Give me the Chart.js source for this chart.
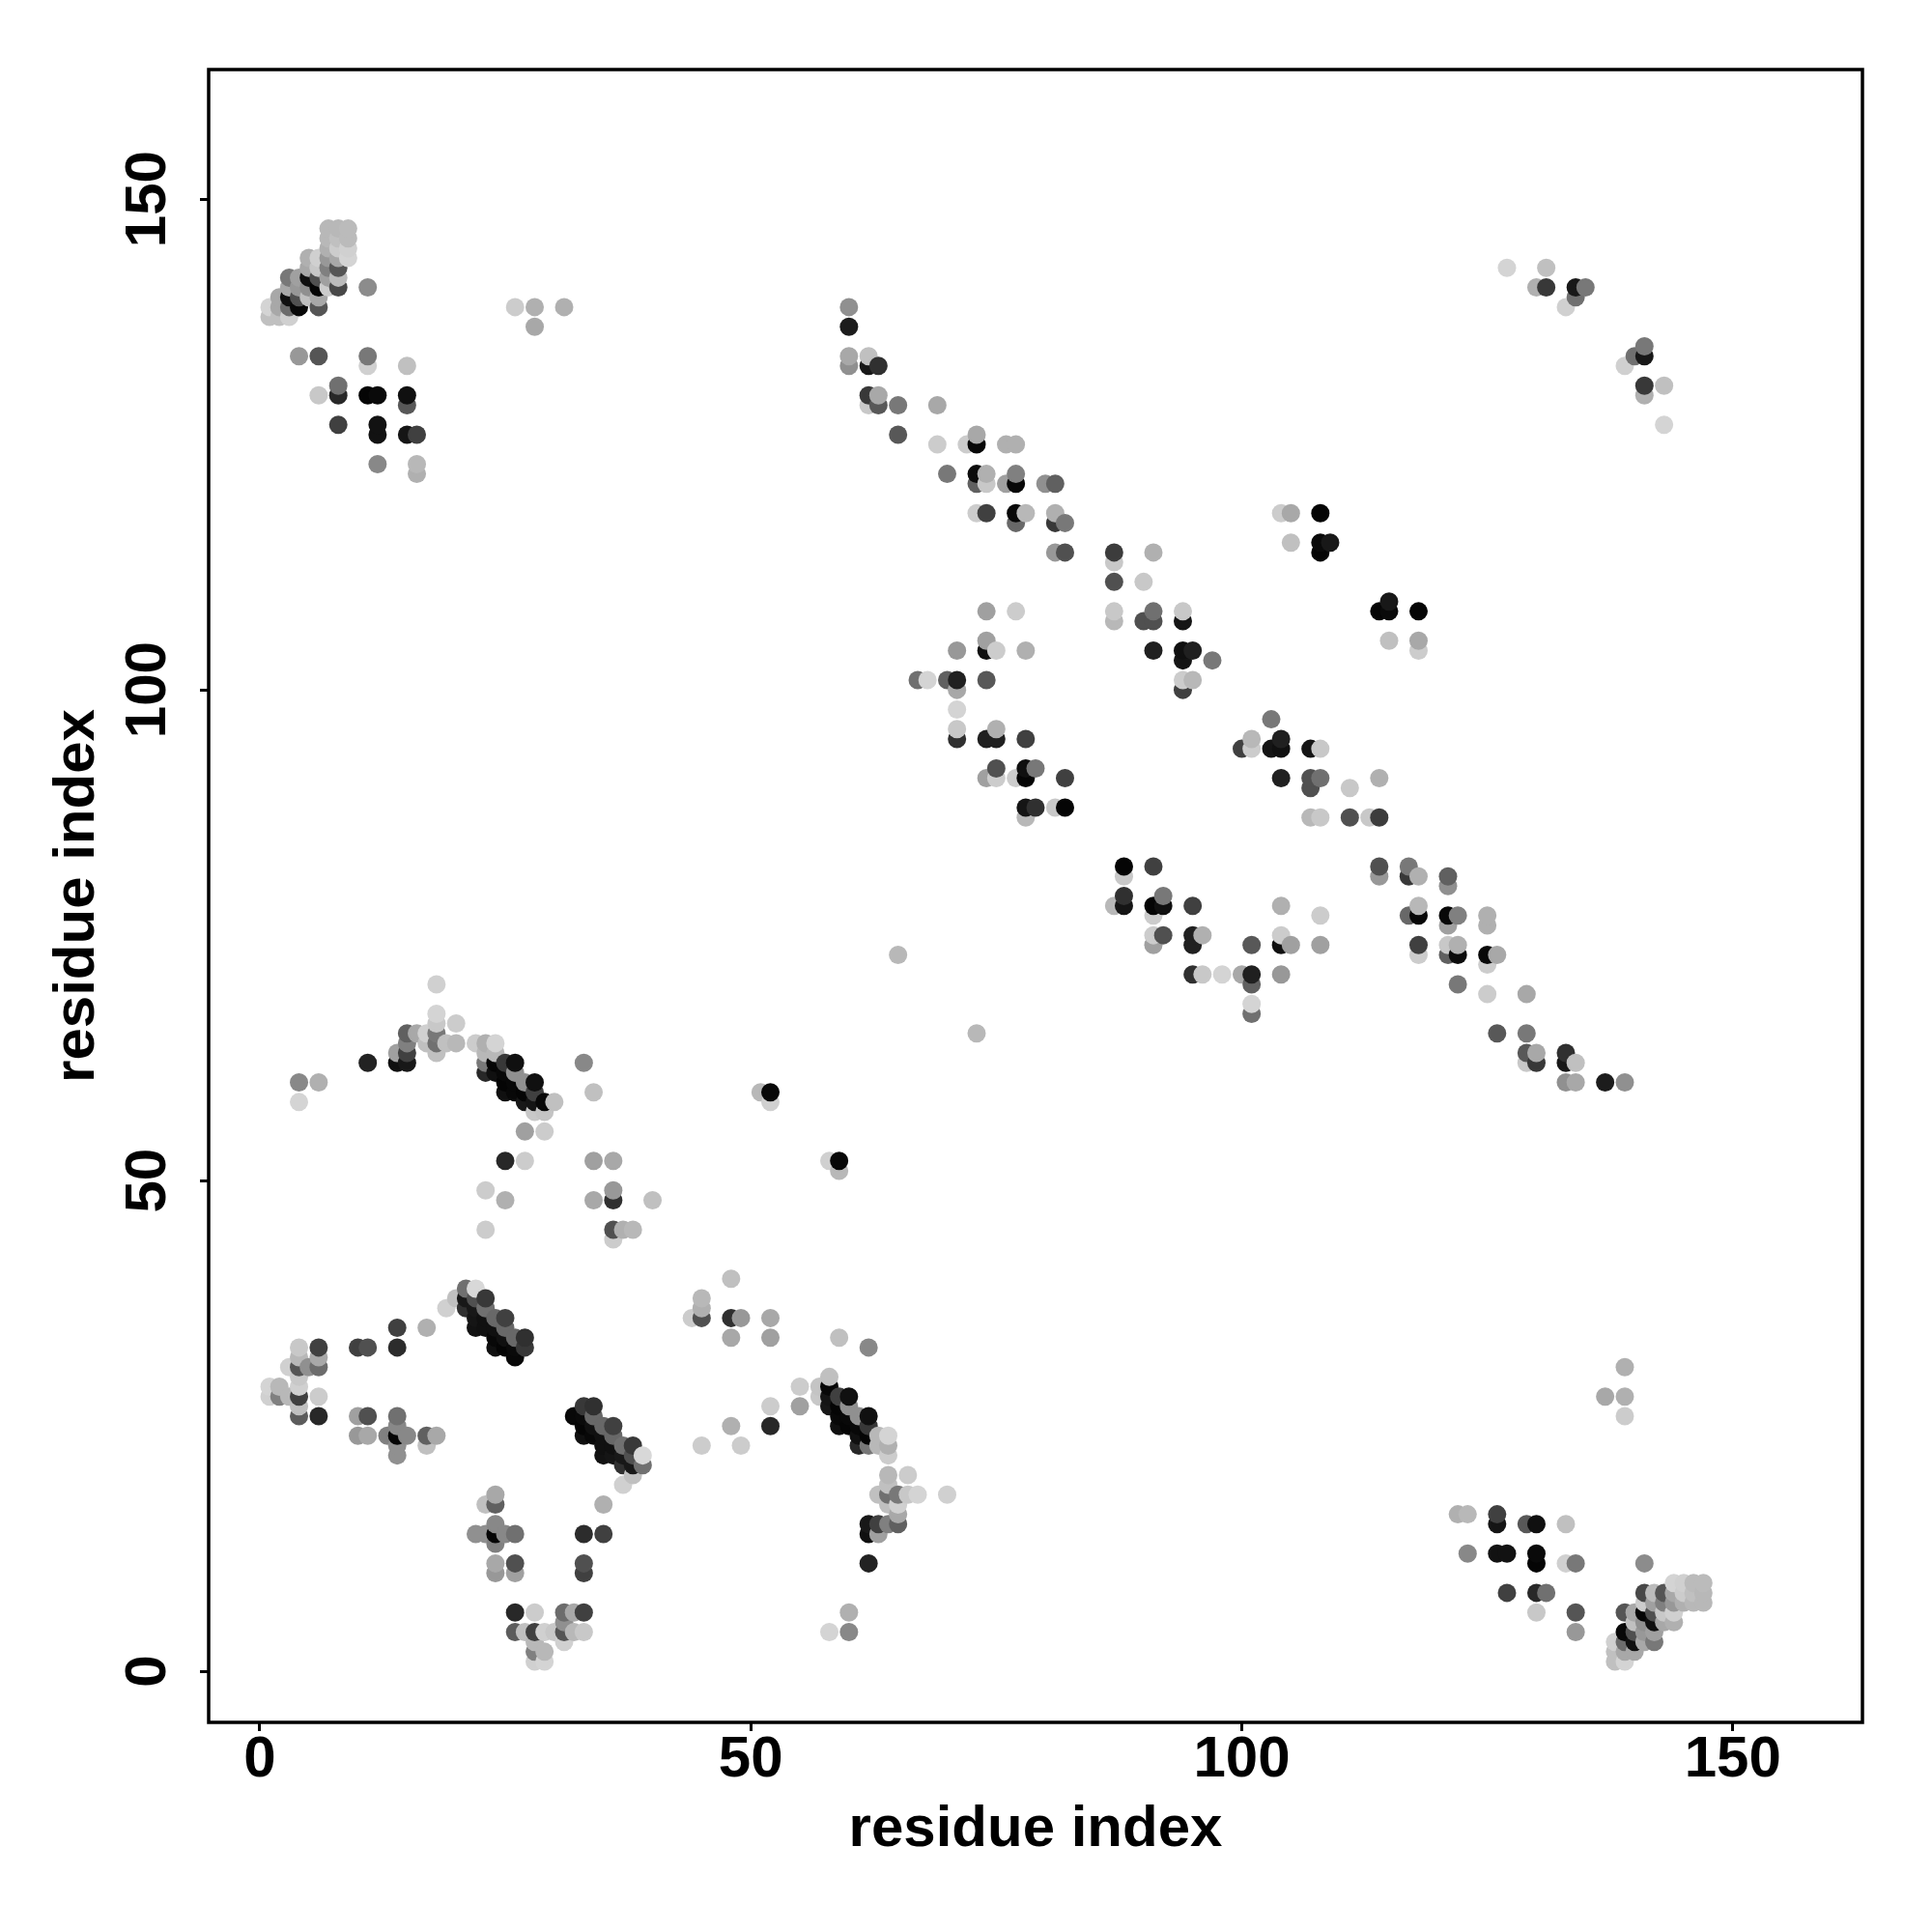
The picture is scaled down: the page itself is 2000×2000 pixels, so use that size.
<!DOCTYPE html>
<html>
<head>
<meta charset="utf-8">
<title>residue contact map</title>
<script src="https://cdn.jsdelivr.net/npm/chart.js@4"></script>
<style>
body { margin: 0; background: #fff; }
canvas { display: block; }
</style>
</head>
<body>
<canvas id="contactMap" width="2000" height="2000"></canvas>
<script>
// upper triangle of the contact map, one line per residue. the map is symmetric so each contact is drawn at (i,j) and (j,i)
const residueI = [
  1, 2, 3, 4, 5, 6, 7, 8, 9, 10,
  11, 12, 13, 14, 15, 16, 17, 18, 19, 20,
  21, 22, 23, 24, 25, 26, 27, 28, 29, 30,
  31, 33, 34, 36, 37, 38, 40, 51, 52, 60,
  62, 63, 65, 67, 68, 69, 70, 71, 72, 73,
  74, 75, 76, 77, 78, 79, 80, 81, 82, 87,
  90, 91, 94, 95, 97, 104, 105, 108, 109, 127,
  130, 131, 133, 134, 135
];
const residueJ = [
  [28, 29, 138, 139],
  [28, 29, 138, 139, 140],
  [28, 31, 138, 139, 140, 141, 142],
  [26, 27, 28, 29, 30, 31, 32, 33, 58, 60, 134, 139, 140, 141, 142],
  [31, 140, 141, 142, 143, 144],
  [26, 28, 31, 32, 33, 60, 130, 134, 139, 140, 141, 142, 143, 144],
  [141, 142, 143, 144, 145, 146, 147],
  [127, 130, 131, 141, 142, 143, 144, 145, 146, 147],
  [144, 145, 146, 147],
  [24, 26, 33],
  [24, 26, 33, 62, 130, 133, 134, 141],
  [123, 126, 127, 130],
  [24],
  [22, 23, 24, 25, 26, 33, 35, 62, 63],
  [24, 62, 63, 64, 65, 126, 129, 130, 133],
  [65, 122, 123, 126],
  [23, 24, 35, 64, 65],
  [24, 63, 64, 65, 66, 67, 70],
  [37, 64],
  [38, 64, 66],
  [37, 38, 39],
  [35, 36, 37, 38, 39, 64],
  [35, 36, 37, 38, 45, 49, 61, 62, 63, 64],
  [33, 34, 35, 36, 61, 62, 63, 64],
  [33, 34, 35, 36, 48, 52, 59, 60, 61, 62],
  [32, 33, 34, 59, 60, 61, 62, 139],
  [33, 34, 52, 55, 58, 59, 60],
  [57, 58, 59, 60, 137, 139],
  [55, 57, 58],
  [58],
  [139],
  [62],
  [48, 52, 59],
  [44, 45, 48, 49, 52],
  [45],
  [45],
  [48],
  [59],
  [58, 59],
  [133, 134, 137, 139],
  [129, 130, 133, 134],
  [129, 130, 133],
  [73, 126, 129],
  [101],
  [101],
  [125, 129],
  [101, 122],
  [95, 96, 98, 100, 101, 104],
  [125],
  [118, 121, 122, 125, 126],
  [91, 95, 101, 104, 105, 108, 118, 121, 122],
  [91, 92, 95, 96, 104],
  [121, 125],
  [91, 108, 117, 118, 121, 122, 125],
  [87, 88, 91, 92, 95, 104, 118],
  [88, 92],
  [121],
  [88, 114, 117, 118, 121],
  [88, 91, 114, 117],
  [107, 108, 111, 113, 114],
  [107, 111],
  [104, 107, 108, 114],
  [100, 101, 103, 104, 107, 108],
  [101, 104],
  [103],
  [118],
  [115, 118],
  [114, 115, 118],
  [115],
  [143],
  [141],
  [141, 143],
  [139],
  [140, 141],
  [141]
];
// grey level of each contact, same layout as residueJ
const contactGrey = [
  [208, 212, 192, 212],
  [128, 184, 192, 168, 168],
  [184, 208, 208, 108, 16, 168, 120],
  [92, 192, 64, 208, 200, 85, 184, 200, 212, 136, 152, 8, 80, 152, 160],
  [144, 192, 144, 16, 168, 176],
  [40, 204, 108, 168, 64, 176, 200, 85, 85, 168, 5, 80, 200, 208],
  [204, 160, 128, 152, 176, 184, 184],
  [64, 40, 112, 72, 187, 85, 168, 204, 192, 184],
  [212, 208, 187, 187],
  [152, 160, 64],
  [168, 80, 80, 34, 5, 208, 120, 140],
  [136, 18, 18, 10],
  [128],
  [144, 144, 5, 136, 112, 44, 64, 16, 160],
  [136, 24, 64, 128, 96, 21, 88, 16, 192],
  [168, 176, 184, 64],
  [192, 96, 176, 192, 208],
  [168, 192, 112, 120, 200, 212, 208],
  [208, 192],
  [192, 184, 204],
  [48, 24, 112],
  [18, 21, 24, 80, 216, 204],
  [16, 16, 112, 56, 204, 204, 40, 120, 184, 176],
  [16, 8, 16, 104, 16, 5, 184, 212],
  [5, 16, 104, 64, 176, 40, 16, 5, 8, 56],
  [8, 10, 104, 8, 8, 144, 16, 204],
  [56, 48, 204, 160, 24, 5, 144],
  [200, 21, 64, 16, 168, 176],
  [204, 196, 8],
  [192],
  [176],
  [136],
  [168, 160, 192],
  [204, 80, 48, 152, 168],
  [176],
  [184],
  [192],
  [184],
  [208, 8],
  [144, 168, 28, 144],
  [200, 56, 24, 192],
  [88, 168, 48],
  [184, 88, 120],
  [112],
  [212],
  [204, 168],
  [96, 120],
  [48, 200, 212, 168, 32, 152],
  [204],
  [204, 96, 12, 8, 168],
  [160, 32, 88, 16, 160, 160, 64, 200, 176],
  [204, 80, 32, 176, 204],
  [160, 176],
  [204, 204, 104, 8, 8, 128, 176],
  [184, 21, 5, 16, 64, 176, 184],
  [48, 120],
  [144],
  [200, 152, 56, 176, 96],
  [5, 64, 80, 120],
  [184, 200, 80, 200, 60],
  [80, 200],
  [32, 80, 112, 176],
  [64, 204, 21, 16, 21, 200],
  [184, 32],
  [120],
  [204],
  [192, 168],
  [5, 10, 5],
  [24],
  [212],
  [176],
  [56, 192],
  [208],
  [112, 24],
  [120]
];
const tickValues = [0, 50, 100, 150];
const axisTitle = 'residue index';

const contacts = [];
residueI.forEach((i, row) => {
    residueJ[row].forEach((j, k) => {
        const grey = contactGrey[row][k];
        contacts.push({ x: i, y: j, grey: grey });
        contacts.push({ x: j, y: i, grey: grey });
    });
});
// later columns and higher rows sit on top in the original
contacts.sort((a, b) => a.x - b.x || a.y - b.y);

const frame = {
    id: 'frame',
    afterDatasetsDraw: (chart) => {
        const { ctx, chartArea: a } = chart;
        ctx.save();
        ctx.strokeStyle = '#000';
        ctx.lineWidth = 3.5;
        ctx.strokeRect(a.left, a.top, a.right - a.left, a.bottom - a.top);
        ctx.restore();
    }
};

const font = { family: '"Liberation Sans"', weight: 'bold', size: 60 };
const grid = { drawOnChartArea: false, color: '#000', lineWidth: 3, tickLength: 9, tickColor: '#000', tickWidth: 3 };
const setTicks = (scale) => {
    scale.ticks = tickValues.map((v) => ({ value: v }));
};

const chart = new Chart(document.getElementById('contactMap').getContext('2d'), {
    type: 'scatter',
    data: {
        datasets: [{
            data: contacts,
            pointRadius: 9.5,
            pointBorderWidth: 0,
            pointBackgroundColor: contacts.map((c) => `rgb(${c.grey},${c.grey},${c.grey})`)
        }]
    },
    plugins: [frame],
    options: {
        responsive: false,
        devicePixelRatio: 1,
        animation: false,
        layout: { padding: { top: 72, right: 72, left: 0, bottom: 0 } },
        plugins: { legend: { display: false }, tooltip: { enabled: false } },
        scales: {
            x: {
                type: 'linear',
                min: -5.2,
                max: 163.2,
                grid: grid,
                border: { display: false },
                afterBuildTicks: setTicks,
                afterFit: (scale) => { scale.height = 217; },
                ticks: { color: '#000', font: font, padding: -6, autoSkip: false, maxRotation: 0 },
                title: { display: true, text: axisTitle, color: '#000', font: font, padding: { top: 0, bottom: 70 } }
            },
            y: {
                type: 'linear',
                min: -5.2,
                max: 163.2,
                grid: grid,
                border: { display: false },
                afterBuildTicks: setTicks,
                afterFit: (scale) => { scale.width = 216; },
                ticks: { color: '#000', font: font, padding: 2, autoSkip: false, minRotation: 90, maxRotation: 90, crossAlign: 'center' },
                title: { display: true, text: axisTitle, color: '#000', font: font, padding: { top: 44, bottom: 0 } }
            }
        }
    }
});
</script>
</body>
</html>
